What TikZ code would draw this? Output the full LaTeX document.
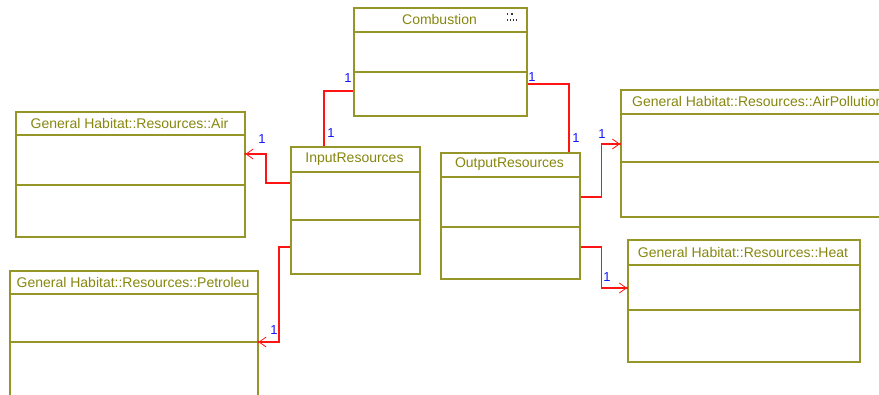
\documentclass[tikz,border=0pt]{standalone}
\usepackage{fontspec}
\setmainfont{Liberation Sans}
\usetikzlibrary{arrows.meta}

\definecolor{umlline}{RGB}{150,150,40}
\definecolor{umltext}{RGB}{135,135,15}
\definecolor{assocred}{RGB}{255,20,20}
\definecolor{multblue}{RGB}{20,20,255}

\tikzset{
  classbox/.style={draw=umlline, line width=1.5pt, fill=white, rectangle,
    inner sep=0pt, anchor=north west},
  sepline/.style={draw=umlline, line width=1.5pt},
  classtitle/.style={text=umltext, font=\fontsize{14}{15}\selectfont, inner sep=0pt},
  assoc/.style={draw=assocred, line width=1.1pt},
  navarrow/.style={assoc, -{Straight Barb[length=7pt,width=10pt,line width=0.8pt]}},
  mult/.style={text=multblue, font=\fontsize{13}{13}\selectfont, inner sep=0pt}
}

% \umlclass{name}{left}{top}{right}{bottom}{header line}{middle line}{title}
\newcommand{\umlclass}[8]{%
  \node[classbox, minimum width={(#4)-(#2)}, minimum height={(#5)-(#3)}] (#1) at (#2,#3) {};
  \draw[sepline] (#2,#6) -- (#4,#6);
  \draw[sepline] (#2,#7) -- (#4,#7);
  \node[classtitle] (#1-title) at ({((#2)+(#4))/2},{((#3)+(#6))/2}) {#8};
}

\begin{document}
\begin{tikzpicture}[x=1pt, y=-1pt]
\clip (0,0) rectangle (879,394);
\fill[white] (0,0) rectangle (879,394);

% classes
\umlclass{comb}{353}{7}{526}{115}{32}{72}{Combustion}
\umlclass{inp}{290}{146}{419}{273}{172}{220}{InputResources}
\umlclass{out}{440}{152}{579}{278}{177}{227}{OutputResources}
\umlclass{air}{15}{111}{244}{236}{135}{185}{General Habitat::Resources::Air}
\umlclass{pet}{9}{270}{257}{420}{294}{342}{General Habitat::Resources::Petroleu}
\umlclass{heat}{627}{239}{859}{361}{265}{310}{General Habitat::Resources::Heat}
% AirPollution runs past the right border; its title starts near the left edge
\node[classbox, minimum width=300pt, minimum height=127pt] (ap) at (620,89) {};
\draw[sepline] (620,114) -- (920,114);
\draw[sepline] (620,162) -- (920,162);
\node[classtitle, anchor=west] (ap-title) at (632,101.5) {General Habitat::Resources::AirPollution};

% truncated marker in the Combustion header
\foreach \px/\py in {507.5/14, 512/14, 507.5/20, 510.5/20, 513.5/20, 516.5/20}
  \fill[black!80] (\px-0.9,\py-0.9) rectangle (\px+0.9,\py+0.9);

% associations from Combustion
\draw[assoc] ([yshift=-84pt]comb.north west) -| ([xshift=34pt]inp.north west);
\draw[assoc] ([yshift=-77pt]comb.north east) -| ([xshift=129pt]out.north west);

% navigable associations
\draw[navarrow] ([yshift=-37pt]inp.north west) -- ++(-24,0) |- ([yshift=-43pt]air.north east);
\fill[assocred] ([yshift=-43pt]air.north east) circle (1.3pt);
\draw[navarrow] ([yshift=-101pt]inp.north west) -- ++(-11,0) |- ([yshift=-72pt]pet.north east);
\fill[assocred] ([yshift=-72pt]pet.north east) circle (1.3pt);
\draw[navarrow] ([yshift=-45pt]out.north east) -- ++(21,0) |- ([yshift=-55pt]ap.north west);
\fill[assocred] ([yshift=-55pt]ap.north west) circle (1.3pt);
\draw[navarrow] ([yshift=-95pt]out.north east) -- ++(21,0) |- ([yshift=-49pt]heat.north west);
\fill[assocred] ([yshift=-49pt]heat.north west) circle (1.3pt);

% multiplicities
\node[mult] (m1) at (348,78) {1};
\node[mult] (m2) at (331,133) {1};
\node[mult] (m3) at (532,77) {1};
\node[mult] (m4) at (576,138) {1};
\node[mult] (m5) at (262,139) {1};
\node[mult] (m6) at (274,330) {1};
\node[mult] (m7) at (602,134) {1};
\node[mult] (m8) at (607,277) {1};
\end{tikzpicture}
\end{document}
